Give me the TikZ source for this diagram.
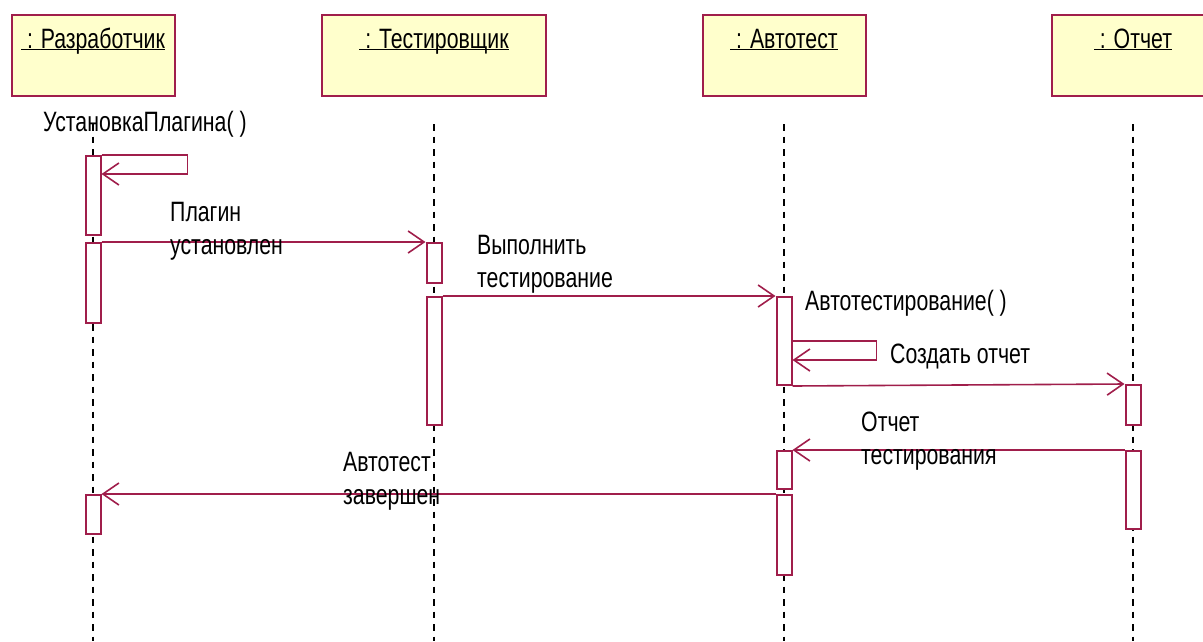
\documentclass[tikz,border=0pt]{standalone}
\usepackage{fontspec}
\setmainfont[FakeStretch=0.76]{Liberation Sans}
\usepackage{tikz}
\usetikzlibrary{arrows.meta,positioning}
\definecolor{rosered}{RGB}{160,30,75}
\definecolor{roseyellow}{RGB}{255,255,204}

\begin{document}
\begin{tikzpicture}[x=1pt,y=-1pt,
    font=\fontsize{28}{33}\selectfont,
    obj/.style={draw=rosered, line width=2pt, fill=roseyellow, inner sep=0pt,
      minimum width=163pt, text height=33pt, text depth=48pt, anchor=base},
    bar/.style={draw=rosered, line width=2pt, fill=white, inner sep=0pt,
      minimum width=15pt, anchor=north},
    lifeline/.style={black, line width=2pt, dash pattern=on 6.5pt off 6pt},
    msg/.style={rosered, line width=1.6pt, -{Straight Barb[length=16pt,width=22pt]}},
    txt/.style={inner sep=0pt, align=left}]
    \useasboundingbox (0,0) rectangle (1203,641);
    \clip (0,0) rectangle (1203,641);
    \coordinate (bottom) at (0,641);

    \node[obj] (dev) at (93,48) {\underline{\smash{\ : Разработчик}}};
    \node[obj, minimum width=224pt] (tester) at (434,48) {\underline{\smash{\ : Тестировщик}}};
    \node[obj] (auto) at (784,48) {\underline{\smash{\ : Автотест}}};
    \node[obj] (report) at (1133,48) {\underline{\smash{\ : Отчет}}};

    \foreach \o in {dev,tester,auto,report}
        \draw[lifeline] ([yshift=-27pt]\o.south) -- (\o.south |- bottom);

    \node[bar, minimum height=79pt] (d1) at (93,155) {};
    \node[bar, minimum height=80pt] (d2) at (93,242) {};
    \node[bar, minimum height=39pt] (d3) at (93,494) {};
    \node[bar, minimum height=40pt] (t1) at (434,242) {};
    \node[bar, minimum height=128pt] (t2) at (434,296) {};
    \node[bar, minimum height=88pt] (a1) at (784,296) {};
    \node[bar, minimum height=38pt] (a2) at (784,450) {};
    \node[bar, minimum height=80pt] (a3) at (784,494) {};
    \node[bar, minimum height=40pt] (r1) at (1133,384) {};
    \node[bar, minimum height=78pt] (r2) at (1133,450) {};

    \draw[msg] (d1.north east) -| ++(86,19) -- ++(-86,0);
    \draw[msg] (d2.north east) -- (t1.north west);
    \draw[msg] (t2.north east) -- (a1.north west);
    \draw[msg] ([yshift=-45pt]a1.north east) -| ++(84,19) -- ++(-84,0);
    \draw[msg] (a1.south east) -- (r1.north west);
    \draw[msg] (r2.north west) -- (a2.north east);
    \draw[msg] (a3.north west) -- (d3.north east);

    \node[txt, anchor=base west] (l1) at (43,131) {УстановкаПлагина( )};
    \node[txt, anchor=north west] (l2) at (170,202) {Плагин\\установлен};
    \node[txt, anchor=north west] (l3) at (477,235) {Выполнить\\тестирование};
    \node[txt, anchor=base west] (l4) at (805,310) {Автотестирование( )};
    \node[txt, anchor=base west] (l5) at (890,363) {Создать отчет};
    \node[txt, anchor=north west] (l6) at (861,412) {Отчет\\тестирования};
    \node[txt, anchor=north west] (l7) at (343,452) {Автотест\\завершен};
\end{tikzpicture}
\end{document}
